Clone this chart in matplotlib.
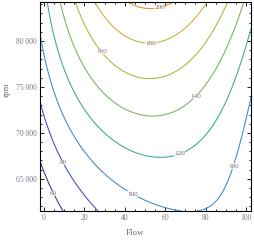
import numpy as np
import matplotlib
matplotlib.use("Agg")
import matplotlib.pyplot as plt
from matplotlib.ticker import MultipleLocator, FuncFormatter

# response surface: value = sum(coef * term),
# u = Flow / 100, v = (rpm - 70000) / 10000
# terms: 1, u, v, u^2, v^2, uv, u^3, v^3, u^2 v, u v^2
coef = [74.02, 216.34, 32.55, -216.19, -1.49, 73.13, 23.49, -0.96, -91.26, 12.20]
flow_range = [-2, 102.5]
rpm_range = [61500, 84250]
levels = [60, 80, 100, 120, 140, 160, 180, 200]
level_colors = ['#4a2a9a', '#3f48c8', '#3c88cc', '#3aa595', '#74b35a', '#a3b83a', '#c6b032', '#e3902a']
# label spots (Flow, rpm)
label_spots = [(57.4, 83478), (53, 79891), (28.7, 78913), (75.2, 73913), (67.3, 67609),
               (91.6, 66522), (43.1, 63043), (8.9, 66739), (5.4, 63478)]

flow = np.linspace(flow_range[0], flow_range[1], 300)
rpm = np.linspace(rpm_range[0], rpm_range[1], 300)
F, R = np.meshgrid(flow, rpm)
u = F / 100
v = (R - 70000) / 10000
terms = [np.ones_like(u), u, v, u ** 2, v ** 2, u * v, u ** 3, v ** 3, u ** 2 * v, u * v ** 2]
Z = sum(c * t for c, t in zip(coef, terms))

plt.rcParams['font.family'] = 'Liberation Serif'
fig = plt.figure(figsize=(2.55, 2.41), dpi=100)
ax = fig.add_axes([40 / 255, 30 / 241, 211 / 255, 209 / 241])

cs = ax.contour(F, R, Z, levels=levels, colors=level_colors, linewidths=0.75)
lbls = ax.clabel(cs, manual=label_spots, inline=False, fontsize=5.2, fmt='%d')
for t in lbls:
    t.set_rotation(0)
    t.set_color('#8a6f70')
    t.set_bbox(dict(facecolor='white', edgecolor='none', pad=0.2, alpha=0.8))

ax.set_xlim(flow_range)
ax.set_ylim(rpm_range)
ax.xaxis.set_major_locator(MultipleLocator(20))
ax.xaxis.set_minor_locator(MultipleLocator(5))
ax.yaxis.set_major_locator(MultipleLocator(5000))
ax.yaxis.set_minor_locator(MultipleLocator(1000))
ax.yaxis.set_major_formatter(FuncFormatter(lambda val, pos: "{:,}".format(int(val)).replace(",", " ")))
ax.tick_params(which='both', direction='in', top=True, right=True, labelsize=5.5,
               labelcolor='#7a7a88', width=0.6, pad=2.5)
ax.tick_params(which='major', length=3)
ax.tick_params(which='minor', length=1.6)
for s in ax.spines.values():
    s.set_linewidth(0.8)

fig.text(135 / 255, 1 - 233 / 241, 'Flow', ha='center', va='center', fontsize=6.5, color='#6a6a78')
fig.text(7 / 255, 1 - 90 / 241, 'rpm', ha='center', va='center', rotation=90, fontsize=6.5, color='#6a6a78')

fig.savefig("out.png")
